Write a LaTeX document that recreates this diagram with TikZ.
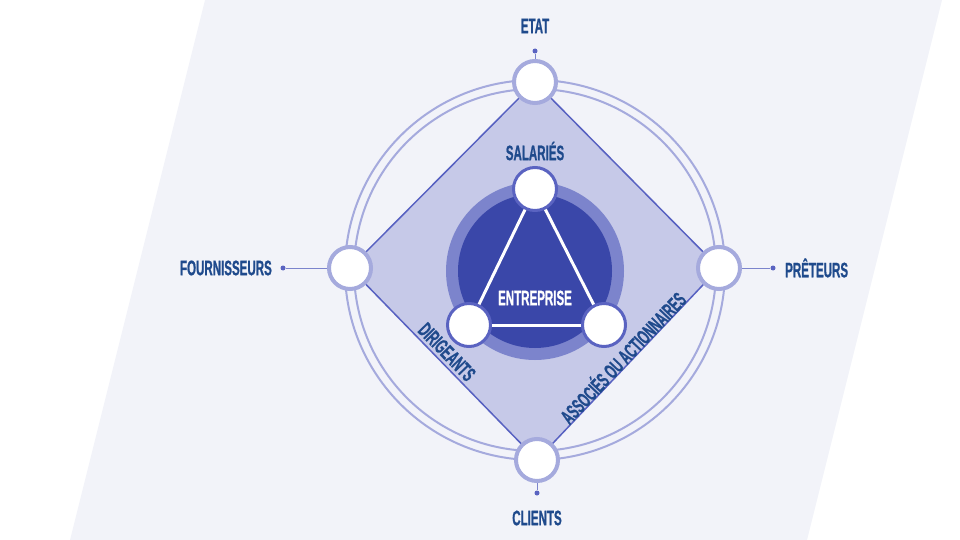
\documentclass[tikz,border=0pt]{standalone}
\usepackage{fontspec}
\setmainfont{Liberation Sans}
\newfontfamily\condfont[FakeStretch=0.55,FakeBold=0.8]{Liberation Sans Bold}
\definecolor{bgc}{HTML}{F2F3F9}
\definecolor{ringc}{HTML}{A5AADD}
\definecolor{diafill}{HTML}{C6C9E8}
\definecolor{diaedge}{HTML}{5761C1}
\definecolor{midc}{HTML}{7C84CC}
\definecolor{corec}{HTML}{3A47A9}
\definecolor{innerb}{HTML}{5A63C1}
\definecolor{labc}{HTML}{1F4A8C}
\definecolor{dotc}{HTML}{5A63C1}
\begin{document}
\begin{tikzpicture}[x=1pt,y=-1pt,
  lab/.style={font=\condfont\fontsize{21}{23}\selectfont, text=labc, inner sep=0pt},
  ringst/.style={draw=ringc, line width=2pt},
  diamondst/.style={fill=diafill, draw=diaedge, line width=1.5pt, line join=miter},
  outerc/.style={circle, draw=ringc, line width=4pt, fill=white, minimum size=42pt, inner sep=0pt},
  innerc/.style={circle, draw=innerb, line width=3pt, fill=white, minimum size=43pt, inner sep=0pt},
  triline/.style={draw=white, line width=3pt},
  dotst/.style={circle, fill=dotc, minimum size=5pt, inner sep=0pt},
  conn/.style={draw=midc, line width=1pt}]
\useasboundingbox (0,0) rectangle (960,540);
\fill[bgc] (205,0) -- (942,0) -- (807,540) -- (70,540) -- cycle;
\coordinate (cen) at (535,270);
\draw[ringst] (cen) circle[radius=190];
\draw[ringst] (cen) circle[radius=181];
\coordinate (pE) at (535,82);
\coordinate (pP) at (719,268);
\coordinate (pC) at (537,460);
\coordinate (pF) at (350,268);
\draw[diamondst] (pE) -- (pP) -- (pC) -- (pF) -- cycle;
\fill[midc] (535,271) circle[radius=89];
\fill[corec] (535,271) circle[radius=77];
% outer stakeholder circles
\node[outerc] (etat) at (pE) {};
\node[outerc] (pret) at (pP) {};
\node[outerc] (cli) at (pC) {};
\node[outerc] (four) at (pF) {};
% inner circles
\node[innerc] (sal) at (535,189) {};
\node[innerc] (dir) at (469,325) {};
\node[innerc] (ass) at (604,325) {};
\draw[triline] (sal) -- (dir);
\draw[triline] (dir) -- (ass);
\draw[triline] (ass) -- (sal);
% dots and connectors
\node[dotst] (dE) at (535,51) {};
\node[dotst] (dF) at (283,268) {};
\node[dotst] (dP) at (773,268) {};
\node[dotst] (dC) at (537,493) {};
\draw[conn] (etat) -- (dE);
\draw[conn] (four) -- (dF);
\draw[conn] (pret) -- (dP);
\draw[conn] (cli) -- (dC);
% labels
\node[lab] (tE) at (535,26) {ETAT};
\node[lab, anchor=east] (tF) at (272,268) {FOURNISSEURS};
\node[lab, anchor=west] (tP) at (785,268) {PRÊTEURS};
\node[lab] (tC) at (537,518) {CLIENTS};
\node[lab] (tS) at (535,151) {SALARIÉS};
\node[lab, text=white] (tEnt) at (535,298) {ENTREPRISE};
\node[lab, rotate=-45.8] (tD) at (447,352) {DIRIGEANTS};
\node[lab, rotate=46.5] (tA) at (622,357) {ASSOCIÉS OU ACTIONNAIRES};
\end{tikzpicture}
\end{document}
